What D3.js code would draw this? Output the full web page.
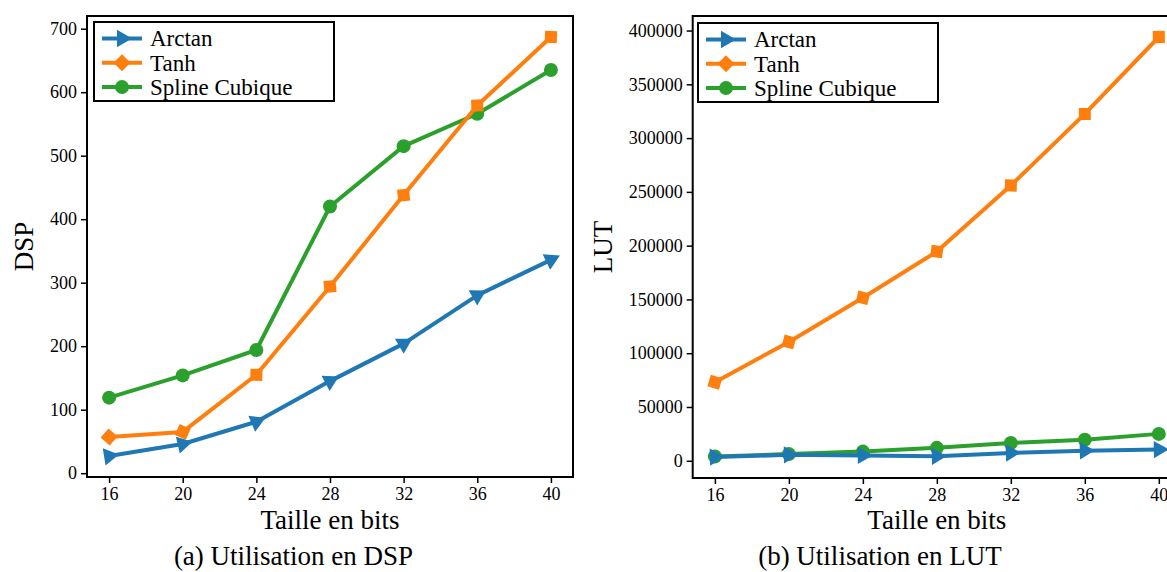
<!DOCTYPE html>
<html>
<head>
<meta charset="utf-8">
<script src="https://cdn.jsdelivr.net/npm/d3@7"></script>
<style>
  body { margin: 0; background: #fff; }
  svg { display: block; font-family: "Liberation Serif", "DejaVu Serif", serif; }
</style>
</head>
<body>
<svg id="chart" width="1167" height="572"></svg>
<script>
// taille en bits
const sizes = [16, 20, 24, 28, 32, 36, 40];

// (a) DSP
const dspArctan = [27, 46, 81, 145, 204, 280, 336];
const dspTanh = [57, 65, 155, 294, 438, 579, 687];
const dspSpline = [119, 154, 194, 420, 515, 566, 635];
const dspTicks = [0, 100, 200, 300, 400, 500, 600, 700];

// (b) LUT
const lutArctan = [3500, 5500, 5000, 4200, 7300, 9400, 10500];
const lutTanh = [73000, 110500, 151500, 194500, 256000, 322500, 394000];
const lutSpline = [4000, 6200, 8500, 12000, 16500, 19500, 25000];
const lutTicks = [0, 50000, 100000, 150000, 200000, 250000, 300000, 350000, 400000];

const names = ["Arctan", "Tanh", "Spline Cubique"];
const colors = ["#1f77b4", "#ff7f0e", "#2ca02c"];
const shapes = ["tri", "diamond", "circle"];

const svg = d3.select("#chart");

// matplotlib-like 5% margins
function pad(ext) {
  const m = (ext[1] - ext[0]) * 0.05;
  return [ext[0] - m, ext[1] + m];
}

function markerPath(shape) {
  if (shape === "tri") {
    const r = 10;
    return `M${r},0L${-r / 2},${-r * 0.866}L${-r / 2},${r * 0.866}Z`;
  }
  if (shape === "diamond") {
    const r = 8.5;
    return `M${r},0L0,${-r}L${-r},0L0,${r}Z`;
  }
  return null;
}

function drawMarker(g, shape, color, px, py, angle) {
  if (shape === "circle") {
    g.append("circle").attr("cx", px).attr("cy", py).attr("r", 7).attr("fill", color);
  } else {
    g.append("path")
      .attr("d", markerPath(shape))
      .attr("fill", color)
      .attr("transform", `translate(${px},${py}) rotate(${angle})`);
  }
}

function panel(cfg) {
  const x = d3.scaleLinear().domain(pad(d3.extent(sizes))).range([cfg.left, cfg.right]);
  const all = cfg.series.flat();
  const y = d3.scaleLinear().domain(pad(d3.extent(all))).range([cfg.bottom, cfg.top]);

  const g = svg.append("g");

  // axes
  const ya = g.append("g")
    .attr("transform", `translate(${cfg.left},0)`)
    .call(d3.axisLeft(y).tickValues(cfg.ticks).tickSize(6).tickPadding(4).tickFormat(d3.format("d")));
  const xa = g.append("g")
    .attr("transform", `translate(0,${cfg.bottom})`)
    .call(d3.axisBottom(x).tickValues(sizes).tickSize(6).tickPadding(4));
  [ya, xa].forEach(a => {
    a.select(".domain").remove();
    a.selectAll("line").attr("stroke", "#000").attr("stroke-width", 1.5);
    a.selectAll("text").attr("font-size", 18).attr("font-family", "Liberation Serif").attr("fill", "#000");
  });

  // series: drawn last-to-first so Arctan sits on top
  const line = d3.line();
  for (let k = cfg.series.length - 1; k >= 0; k--) {
    const pts = sizes.map((s, i) => [x(s), y(cfg.series[k][i])]);
    const sg = g.append("g");
    sg.append("path")
      .attr("d", line(pts))
      .attr("fill", "none")
      .attr("stroke", colors[k])
      .attr("stroke-width", 4)
      .attr("stroke-linejoin", "round");
    pts.forEach((p, i) => {
      const a = [];
      if (i > 0) a.push(Math.atan2(p[1] - pts[i - 1][1], p[0] - pts[i - 1][0]));
      if (i < pts.length - 1) a.push(Math.atan2(pts[i + 1][1] - p[1], pts[i + 1][0] - p[0]));
      const ang = d3.mean(a) * 180 / Math.PI;
      drawMarker(sg, shapes[k], colors[k], p[0], p[1], ang);
    });
  }

  // frame
  g.append("rect")
    .attr("x", cfg.left).attr("y", cfg.top)
    .attr("width", cfg.right - cfg.left).attr("height", cfg.bottom - cfg.top)
    .attr("fill", "none").attr("stroke", "#000").attr("stroke-width", 2);

  // legend
  const lg = g.append("g").attr("transform", `translate(${cfg.legend[0]},${cfg.legend[1]})`);
  lg.append("rect").attr("width", 240).attr("height", 79)
    .attr("fill", "#fff").attr("stroke", "#000").attr("stroke-width", 2);
  names.forEach((n, k) => {
    const ry = 16.5 + k * 24.3;
    lg.append("line").attr("x1", 8).attr("x2", 48).attr("y1", ry).attr("y2", ry)
      .attr("stroke", colors[k]).attr("stroke-width", 4);
    drawMarker(lg, shapes[k], colors[k], 28, ry, 0);
    lg.append("text").attr("x", 56).attr("y", ry).attr("dy", "0.34em")
      .attr("font-size", 23).text(n);
  });

  // labels
  const mid = (cfg.left + cfg.right) / 2;
  g.append("text").attr("x", mid).attr("y", 529).attr("text-anchor", "middle")
    .attr("font-size", 27).text("Taille en bits");
  g.append("text")
    .attr("transform", `translate(${cfg.ylabelX},${(cfg.top + cfg.bottom) / 2}) rotate(-90)`)
    .attr("text-anchor", "middle").attr("font-size", 27).text(cfg.ylabel);
  g.append("text").attr("x", cfg.captionX).attr("y", 565).attr("text-anchor", "middle")
    .attr("font-size", 27).text(cfg.caption);
}

panel({
  left: 87, right: 573, top: 16, bottom: 477,
  series: [dspArctan, dspTanh, dspSpline], ticks: dspTicks,
  legend: [94, 22], ylabel: "DSP", ylabelX: 33,
  caption: "(a) Utilisation en DSP", captionX: 293.5
});

panel({
  left: 692.7, right: 1181, top: 16, bottom: 478,
  series: [lutArctan, lutTanh, lutSpline], ticks: lutTicks,
  legend: [698, 23], ylabel: "LUT", ylabelX: 611.5,
  caption: "(b) Utilisation en LUT", captionX: 880
});
</script>
</body>
</html>
